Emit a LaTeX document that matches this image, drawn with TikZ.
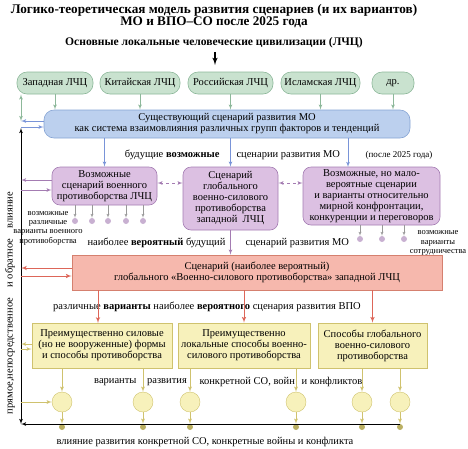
\documentclass[tikz,border=0pt]{standalone}
\usepackage{fontspec}
\setmainfont{Liberation Serif}
\usetikzlibrary{arrows,positioning,calc}

\definecolor{civfill}{HTML}{C9E2CF}
\definecolor{civline}{HTML}{8DB89A}
\definecolor{curfill}{HTML}{BCD0EE}
\definecolor{curline}{HTML}{86A4D4}
\definecolor{altfill}{HTML}{DCC0E2}
\definecolor{altline}{HTML}{A47CB2}
\definecolor{mainfill}{HTML}{F6B8AD}
\definecolor{mainline}{HTML}{D5806F}
\definecolor{wayfill}{HTML}{F7F1BB}
\definecolor{wayline}{HTML}{CFC26E}

\begin{document}
\begin{tikzpicture}[x=1pt,y=-1pt,>=latex',
    every node/.style={font=\fontsize{10.5}{11}\selectfont},
    box/.style={draw,align=center,inner sep=0pt,line width=0.6pt},
    civbox/.style={box,fill=civfill,draw=civline,rounded corners=10pt,minimum height=22pt},
    curbox/.style={box,fill=curfill,draw=curline,rounded corners=10pt,minimum width=366pt,minimum height=28pt},
    altbox/.style={box,fill=altfill,draw=altline,rounded corners=8pt},
    mainbox/.style={box,fill=mainfill,draw=mainline,minimum width=370pt,minimum height=35pt},
    waybox/.style={box,fill=wayfill,draw=wayline,minimum height=45pt},
    varcirc/.style={circle,draw=wayline,fill=wayfill,minimum size=20pt,inner sep=0pt},
    pdot/.style={circle,fill=altline!60,inner sep=0pt,minimum size=6pt},
    ydot/.style={circle,fill=wayline!90!black,inner sep=0pt,minimum size=6pt},
    note/.style={font=\fontsize{8.5}{9.3}\selectfont,align=center},
    garr/.style={->,draw=civline,line width=0.8pt},
    barr/.style={->,draw=curline!90!blue,line width=0.8pt},
    parr/.style={->,draw=altline,line width=0.8pt},
    rarr/.style={->,draw=mainline!80!red,line width=1pt},
    yarr/.style={->,draw=wayline,line width=0.8pt}]
  \useasboundingbox (0,0) rectangle (468,448);

  % title
  \node[font=\bfseries\fontsize{13.2}{12.5}\selectfont,align=center] (title) at (214,16)
    {Логико-теоретическая модель развития сценариев (и их вариантов)\\МО и ВПО–СО после 2025 года};
  \node[font=\bfseries\fontsize{11.6}{12}\selectfont] (lchc) at (214,43)
    {Основные локальные человеческие цивилизации (ЛЧЦ)};
  \coordinate (civtop) at (215,65);
  \draw[->,line width=1.5pt] (lchc.south -| civtop) -- (civtop);

  % civilizations
  \node[civbox,minimum width=76pt] (west) at (55,83) {Западная ЛЧЦ};
  \node[civbox,minimum width=80pt] (china) at (140,83) {Китайская ЛЧЦ};
  \node[civbox,minimum width=85pt] (russia) at (230.5,83) {Российская ЛЧЦ};
  \node[civbox,minimum width=79pt] (islam) at (320.5,83) {Исламская ЛЧЦ};
  \node[civbox,minimum width=42pt] (other) at (393,83) {др.};

  % current scenario
  \node[curbox] (cur) at (227,124)
    {Существующий сценарий развития МО\\как система взаимовлияния различных групп факторов и тенденций};
  \foreach \n in {west,china,russia,islam,other}
    \draw[garr] (\n.south) -- (\n.south |- cur.north);

  % possible scenarios
  \node[altbox,minimum width=105pt,minimum height=38pt] (milit) at (104.5,186)
    {Возможные\\сценарий военного\\противоборства ЛЧЦ};
  \node[altbox,minimum width=95pt,minimum height=63pt] (glob) at (230.5,198.5)
    {Сценарий\\глобального\\военно-силового\\противоборства\\западной~~ЛЧЦ};
  \node[altbox,minimum width=137pt,minimum height=58pt] (peace) at (371.5,196)
    {Возможные, но мало-\\вероятные сценарии\\и варианты относительно\\мирной конфронтации,\\конкуренции и переговоров};

  \coordinate (peacein) at (348,167);
  \draw[barr] (milit.north |- cur.south) -- (milit.north);
  \draw[barr] (glob.north |- cur.south) -- (glob.north);
  \draw[barr] (peacein |- cur.south) -- (peacein);

  \node[anchor=east] (possl) at (223,155) {будущие \textbf{возможные}};
  \node[anchor=west] (possr) at (233,155) {сценарии развития МО};
  \node[font=\fontsize{9}{10}\selectfont] (after) at (399,155) {(после 2025 года)};

  \coordinate (pm) at (0,183);
  \draw[parr,<->,dashed] (pm -| milit.east) -- (pm -| glob.west);
  \draw[parr,<->,dashed] (pm -| glob.east) -- (pm -| peace.west);

  % variants of the scenarios
  \foreach \x [count=\i] in {75,92,108,126,143}{
    \node[pdot] (pd\i) at (\x,221) {};
    \draw[->,draw=gray!80] (pd\i |- milit.south) -- (pd\i.north);
  }
  \foreach \x [count=\i] in {360,382,404}{
    \node[pdot] (qd\i) at (\x,239) {};
    \draw[->,draw=gray!80] (qd\i |- peace.south) -- (qd\i.north);
  }
  \node[note] (milvar) at (48,228) {возможные\\различные\\варианты военного\\противоборства};
  \node[note] (coop) at (438,243) {возможные\\варианты\\сотрудничества};

  \node[anchor=east] (likel) at (229,243) {наиболее \textbf{вероятный} будущий};
  \node[anchor=west] (liker) at (242,243) {сценарий развития МО};

  % most likely scenario
  \node[mainbox] (wmain) at (257,272.5)
    {Сценарий (наиболее вероятный)\\глобального «Военно-силового противоборства» западной ЛЧЦ};
  \draw[parr] (glob.south) -- (glob.south |- wmain.north);

  \node (varl) at (207,307) {различные \textbf{варианты} наиболее \textbf{вероятного} сценария развития ВПО};

  % ways of confrontation
  \node[waybox,minimum width=140pt] (force) at (102,345.5)
    {Преимущественно силовые\\(но не вооруженные) формы\\и способы противоборства};
  \node[waybox,minimum width=132pt] (local) at (244,345.5)
    {Преимущественно\\локальные способы военно-\\силового противоборства};
  \node[waybox,minimum width=109pt] (global) at (372.5,345.5)
    {Способы глобального\\военно-силового\\противоборства};
  \coordinate (forcein) at (98,323);
  \draw[rarr] (forcein |- wmain.south) -- (forcein);
  \foreach \n in {local,global}
    \draw[rarr] (\n.north |- wmain.south) -- (\n.north);

  % concrete variants
  \foreach \x [count=\i] in {62,143,190,296,362,400}{
    \node[varcirc] (c\i) at (\x,402) {};
    \node[ydot] (d\i) at (\x,427) {};
    \draw[yarr] (c\i.south) -- (d\i.north);
  }
  \draw[yarr] (c1 |- force.south) -- (c1.north);
  \draw[yarr] (c2 |- force.south) -- (c2.north);
  \draw[yarr] (c3 |- local.south) -- (c3.north);
  \draw[yarr] (c4 |- local.south) -- (c4.north);
  \draw[yarr] (c5 |- global.south) -- (c5.north);
  \draw[yarr] (c6 |- global.south) -- (c6.north);

  \node[anchor=east] (v1) at (140,382) {варианты};
  \node (v2) at (167,382) {развития};
  \node[anchor=west] (v3) at (196,382) {конкретной СО, войн};
  \node[anchor=west] (v4) at (298,382) {и конфликтов};

  % feedback line
  \coordinate (ltop) at (21,128);
  \coordinate (lbot) at (21,424);
  \draw[<->,line width=0.8pt] (ltop) -- (lbot);
  \draw[->,line width=0.8pt] (d6 |- lbot) -- (lbot);

  \coordinate (fb1) at (21,121);
  \coordinate (fb2) at (21,127);
  \coordinate (fb3) at (21,180);
  \coordinate (fb4) at (21,190);
  \coordinate (fb5) at (21,268);
  \coordinate (fb6) at (21,276);
  \coordinate (fb7) at (21,344);
  \coordinate (fb8) at (21,349);
  \coordinate (fb9) at (21,402);
  \draw[garr,<->] (ltop |- west.south) -- (fb1);
  \draw[barr] (fb1 -| cur.west) -- (fb1);
  \draw[barr] (fb2) -- (fb2 -| cur.west);
  \draw[parr] (fb3 -| milit.west) -- (fb3);
  \draw[parr] (fb4) -- (fb4 -| milit.west);
  \draw[rarr] (fb5 -| wmain.west) -- (fb5);
  \draw[rarr] (fb6) -- (fb6 -| wmain.west);
  \draw[yarr] (fb7 -| force.west) -- (fb7);
  \draw[yarr] (fb8) -- (fb8 -| force.west);
  \draw[yarr] (fb9) -- (c1.west);

  \node[rotate=90] (infl) at (10,303) {прямое,непосредственное\quad и обратное\quad влияние};
  \node (bottom) at (205,442) {влияние развития конкретной СО, конкретные войны и конфликта};
\end{tikzpicture}
\end{document}
